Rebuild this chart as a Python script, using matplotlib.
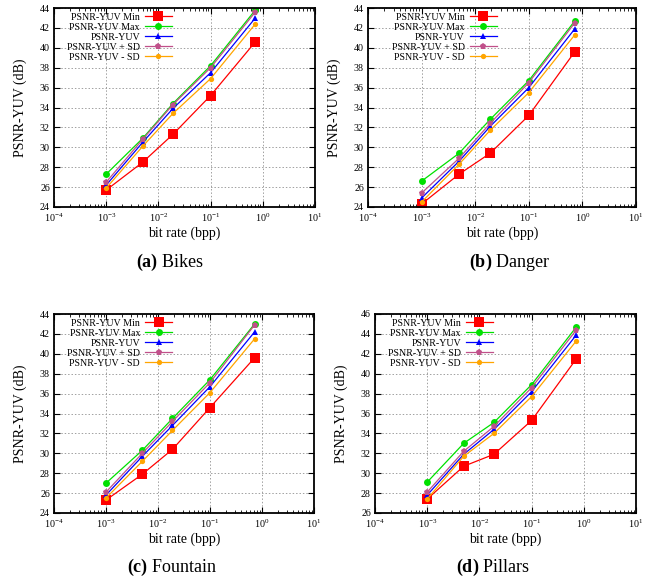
import matplotlib
matplotlib.use('Agg')
import matplotlib.pyplot as plt
from matplotlib.ticker import LogLocator, FixedLocator, NullFormatter

# --- data ---
bitrate = [0.001, 0.005, 0.019, 0.1, 0.72]

bikes_min = [25.7, 28.5, 31.3, 35.2, 40.6]
bikes_max = [27.3, 30.9, 34.4, 38.2, 43.8]
bikes_mean = [26.2, 30.5, 33.9, 37.5, 43.0]
bikes_plus = [26.5, 30.8, 34.3, 38.0, 43.6]
bikes_minus = [25.9, 30.1, 33.4, 36.9, 42.4]

danger_min = [24.3, 27.3, 29.4, 33.2, 39.6]
danger_max = [26.6, 29.4, 32.8, 36.7, 42.7]
danger_mean = [24.9, 28.6, 32.1, 36.0, 41.9]
danger_plus = [25.4, 28.9, 32.4, 36.5, 42.5]
danger_minus = [24.5, 28.3, 31.7, 35.5, 41.3]

fountain_min = [25.3, 27.9, 30.4, 34.6, 39.6]
fountain_max = [27.0, 30.3, 33.5, 37.4, 43.0]
fountain_mean = [25.8, 29.7, 32.8, 36.7, 42.2]
fountain_plus = [26.1, 30.0, 33.2, 37.1, 42.9]
fountain_minus = [25.5, 29.2, 32.3, 36.1, 41.5]

pillars_min = [27.4, 30.7, 31.9, 35.3, 41.5]
pillars_max = [29.1, 33.0, 35.1, 38.9, 44.7]
pillars_mean = [27.8, 31.9, 34.4, 38.2, 43.9]
pillars_plus = [28.1, 32.2, 34.7, 38.6, 44.4]
pillars_minus = [27.4, 31.7, 34.0, 37.7, 43.3]

series_labels = ['PSNR-YUV Min', 'PSNR-YUV Max', 'PSNR-YUV',
                 'PSNR-YUV + SD', 'PSNR-YUV - SD']
captions = ['(a)', '(b)', '(c)', '(d)']
names = ['Bikes', 'Danger', 'Fountain', 'Pillars']

# --- styling ---
COLORS = ['#ff0000', '#00e000', '#0000ff', '#c0508a', '#ffa500']
MARKERS = ['s', 'o', '^', 'p', 'o']
MSIZES = [6.5, 5.0, 4.0, 4.5, 3.8]

plt.rcParams['font.family'] = ['Liberation Serif', 'DejaVu Serif']
plt.rcParams['mathtext.fontset'] = 'custom'
plt.rcParams['mathtext.rm'] = 'Liberation Serif'
plt.rcParams['mathtext.bf'] = 'Liberation Serif:bold'

W, H = 651, 583
fig = plt.figure(figsize=(W / 100, H / 100), dpi=100)

# axes boxes in pixels: left, top, right, bottom
boxes = [(54, 8, 315, 207), (368, 8, 636, 207),
         (54, 314, 314, 513), (375, 314, 636, 513)]
ylims = [(24, 44), (24, 44), (24, 44), (26, 46)]
legend_x = [0.452, 0.48, 0.454, 0.452]
caption_pos = [(170, 262), (510, 262), (172, 567), (493, 567)]

panels = [
    (bikes_min, bikes_max, bikes_mean, bikes_plus, bikes_minus),
    (danger_min, danger_max, danger_mean, danger_plus, danger_minus),
    (fountain_min, fountain_max, fountain_mean, fountain_plus, fountain_minus),
    (pillars_min, pillars_max, pillars_mean, pillars_plus, pillars_minus),
]

for i, data in enumerate(panels):
    l, t, r, b = boxes[i]
    ax = fig.add_axes([l / W, (H - b) / H, (r - l) / W, (b - t) / H])

    for vals, lab, c, m, ms in zip(data, series_labels, COLORS, MARKERS, MSIZES):
        ax.plot(bitrate, vals, color=c, marker=m, markersize=ms,
                linewidth=0.9, label=lab, markeredgewidth=0)

    ax.set_xscale('log')
    ax.set_xlim(1e-4, 1e1)
    ax.set_ylim(*ylims[i])
    lo, hi = ylims[i]
    ax.yaxis.set_major_locator(FixedLocator(list(range(lo, hi + 1, 2))))
    ax.xaxis.set_major_locator(LogLocator(base=10, numticks=10))
    ax.xaxis.set_minor_locator(LogLocator(base=10, subs=range(2, 10), numticks=20))
    ax.xaxis.set_minor_formatter(NullFormatter())

    ax.grid(True, which='major', color='#a0a0a0', linestyle=(0, (1.5, 2)),
            linewidth=0.7)
    ax.tick_params(which='both', direction='in', top=True, right=True,
                   labelsize=7.2, colors='black', pad=3)
    ax.tick_params(which='major', length=4, width=0.8)
    ax.tick_params(which='minor', length=2, width=0.6)
    for sp in ax.spines.values():
        sp.set_linewidth(1.3)
        sp.set_color('black')

    ax.set_xlabel('bit rate (bpp)', fontsize=10, labelpad=2)
    ax.set_ylabel('PSNR-YUV (dB)', fontsize=10, labelpad=9)

    ax.legend(loc='upper right', bbox_to_anchor=(legend_x[i], 0.975),
              frameon=False, markerfirst=False, fontsize=7.2,
              handlelength=2.7, handletextpad=0.5, labelspacing=0.1,
              borderpad=0, borderaxespad=0)

    cx, cy = caption_pos[i]
    fig.text(cx / W, 1 - cy / H, r'$\mathbf{' + captions[i] + '}$ ' + names[i],
             fontsize=13, ha='center', va='center')

fig.savefig('out.png', dpi=100)
